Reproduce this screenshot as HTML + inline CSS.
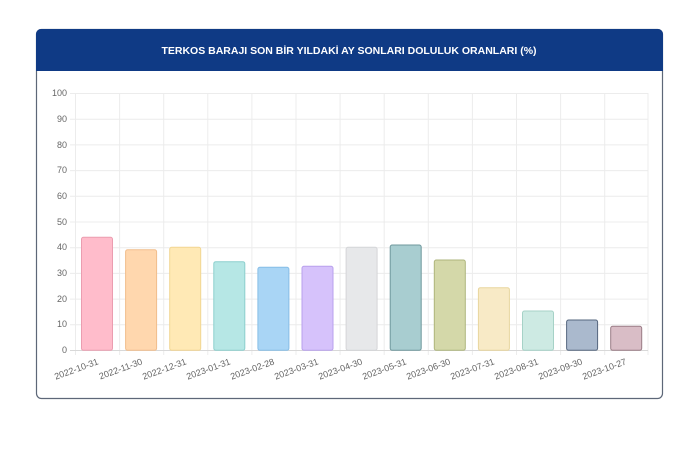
<!DOCTYPE html>
<html><head><meta charset="utf-8"><style>
body{margin:0;background:#fff;width:690px;height:450px;overflow:hidden;font-family:"Liberation Sans",sans-serif}
</style></head><body>
<svg width="690" height="450" xmlns="http://www.w3.org/2000/svg" font-family="Liberation Sans, sans-serif">
<rect x="36.5" y="29.5" width="626" height="369" rx="5" fill="#fff" stroke="#5d6778" stroke-width="1.2"/>
<path d="M36 71 V34 a5 5 0 0 1 5 -5 H658 a5 5 0 0 1 5 5 V71 Z" fill="#0f3a85"/>
<text x="349" y="54" text-anchor="middle" fill="#fff" font-size="10.5" font-weight="bold">TERKOS BARAJI SON BİR YILDAKİ AY SONLARI DOLULUK ORANLARI (%)</text>
<g stroke="#ececec" stroke-width="1">
<line x1="70" x2="648" y1="93.5" y2="93.5"/><line x1="70" x2="648" y1="119.2" y2="119.2"/><line x1="70" x2="648" y1="144.9" y2="144.9"/><line x1="70" x2="648" y1="170.6" y2="170.6"/><line x1="70" x2="648" y1="196.3" y2="196.3"/><line x1="70" x2="648" y1="222" y2="222"/><line x1="70" x2="648" y1="247.7" y2="247.7"/><line x1="70" x2="648" y1="273.4" y2="273.4"/><line x1="70" x2="648" y1="299.1" y2="299.1"/><line x1="70" x2="648" y1="324.8" y2="324.8"/>
<line x1="75.5" x2="75.5" y1="93" y2="355"/><line x1="119.6" x2="119.6" y1="93" y2="355"/><line x1="163.7" x2="163.7" y1="93" y2="355"/><line x1="207.8" x2="207.8" y1="93" y2="355"/><line x1="251.9" x2="251.9" y1="93" y2="355"/><line x1="296" x2="296" y1="93" y2="355"/><line x1="340.1" x2="340.1" y1="93" y2="355"/><line x1="384.2" x2="384.2" y1="93" y2="355"/><line x1="428.3" x2="428.3" y1="93" y2="355"/><line x1="472.4" x2="472.4" y1="93" y2="355"/><line x1="516.5" x2="516.5" y1="93" y2="355"/><line x1="560.6" x2="560.6" y1="93" y2="355"/><line x1="604.7" x2="604.7" y1="93" y2="355"/><line x1="648" x2="648" y1="93" y2="355"/>
</g>
<line x1="70" x2="648" y1="350.5" y2="350.5" stroke="#d8d8d8"/>
<g font-size="9" fill="#666" text-anchor="end">
<text x="67" y="96">100</text><text x="67" y="122">90</text><text x="67" y="148">80</text><text x="67" y="173">70</text><text x="67" y="199">60</text><text x="67" y="225">50</text><text x="67" y="250">40</text><text x="67" y="276">30</text><text x="67" y="302">20</text><text x="67" y="327">10</text><text x="67" y="353">0</text>
</g>
<g stroke-width="1">
<rect x="81.5" y="237.3" width="31" height="113" rx="2" fill="#ffbccb" stroke="#eb9db0"/>
<rect x="125.6" y="249.8" width="31" height="100.5" rx="2" fill="#ffd7ae" stroke="#f1bd8c"/>
<rect x="169.7" y="247.3" width="31" height="103" rx="2" fill="#ffe9b5" stroke="#f2d692"/>
<rect x="213.8" y="261.7" width="31" height="88.6" rx="2" fill="#b6e7e5" stroke="#8ccfcd"/>
<rect x="257.9" y="267.3" width="31" height="83" rx="2" fill="#a9d5f5" stroke="#86bde6"/>
<rect x="302" y="266.3" width="31" height="84" rx="2" fill="#d6c2fb" stroke="#b8a0ec"/>
<rect x="346.1" y="247.3" width="31" height="103" rx="2" fill="#e7e8ea" stroke="#d4d5d8"/>
<rect x="390.2" y="245" width="31" height="105.3" rx="2" fill="#a8cdd0" stroke="#6f989d"/>
<rect x="434.3" y="260" width="31" height="90.3" rx="2" fill="#d4d8a9" stroke="#aeb57c"/>
<rect x="478.4" y="287.7" width="31" height="62.6" rx="2" fill="#f8eac6" stroke="#e8d69e"/>
<rect x="522.5" y="311" width="31" height="39.3" rx="2" fill="#cdeae3" stroke="#a6d2c7"/>
<rect x="566.6" y="320" width="31" height="30.3" rx="2" fill="#aab9cd" stroke="#56677f"/>
<rect x="610.7" y="326.3" width="31" height="24" rx="2" fill="#d9bdc6" stroke="#9a7c86"/>
</g>
<g font-size="9" fill="#666" text-anchor="end">
<text transform="translate(99,364) rotate(-20)">2022-10-31</text>
<text transform="translate(143,364) rotate(-20)">2022-11-30</text>
<text transform="translate(187,364) rotate(-20)">2022-12-31</text>
<text transform="translate(231,364) rotate(-20)">2023-01-31</text>
<text transform="translate(275,364) rotate(-20)">2023-02-28</text>
<text transform="translate(319,364) rotate(-20)">2023-03-31</text>
<text transform="translate(363,364) rotate(-20)">2023-04-30</text>
<text transform="translate(407,364) rotate(-20)">2023-05-31</text>
<text transform="translate(451,364) rotate(-20)">2023-06-30</text>
<text transform="translate(495,364) rotate(-20)">2023-07-31</text>
<text transform="translate(539,364) rotate(-20)">2023-08-31</text>
<text transform="translate(583,364) rotate(-20)">2023-09-30</text>
<text transform="translate(627,364) rotate(-20)">2023-10-27</text>
</g>
</svg>
</body></html>
